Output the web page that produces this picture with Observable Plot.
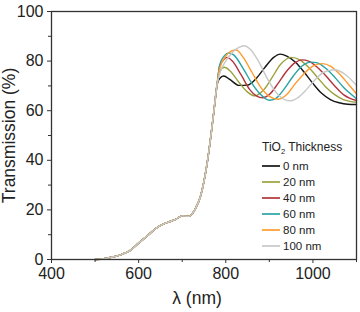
<!DOCTYPE html>
<html>
<head>
<meta charset="utf-8">
<script src="https://cdn.jsdelivr.net/npm/d3@7"></script>
<script src="https://cdn.jsdelivr.net/npm/@observablehq/plot@0.6"></script>
<style>
  html, body { margin: 0; padding: 0; background: #fff; }
  #chart svg { display: block; }
</style>
</head>
<body>
<div id="chart"></div>
<script>
// TiO2 coating thickness for each spectrum, with its line colour
const thickness = ["0 nm", "20 nm", "40 nm", "60 nm", "80 nm", "100 nm"];
const colors = ["#151515", "#9ca23a", "#b3333b", "#27a3a3", "#ff9b2d", "#c8c8c8"];

// Absorption edge shared by all samples: [wavelength nm, transmission %]
const edge = [
  [500, 0], [520, 0.3], [540, 1.0], [560, 2.0], [580, 3.6], [600, 6.6],
  [620, 9.6], [640, 12.6], [655, 14.2], [670, 15.2], [685, 16.2], [700, 17.6],
  [715, 17.4], [730, 20.4], [742, 25.5], [757, 38.6], [772, 58.7], [780, 70.5]
];

// Interference fringes above the edge, one list per thickness
const t0 = [
  [786, 73], [795, 74], [810, 72.5], [830, 70.2], [850, 70.3], [870, 73],
  [890, 77.5], [910, 81.5], [925, 82.8], [940, 82], [960, 79.5], [980, 75.5],
  [1000, 71], [1020, 67], [1040, 64.5], [1060, 63.2], [1080, 62.6], [1100, 62.5]
];
const t20 = [
  [786, 76], [797, 77.5], [810, 76], [830, 71.5], [850, 67.5], [867, 66],
  [885, 68], [905, 73], [925, 78.5], [950, 81.5], [970, 80.5], [990, 77.5],
  [1010, 73.5], [1030, 69.5], [1050, 66.5], [1070, 64.5], [1100, 63.4]
];
const t40 = [
  [786, 78], [795, 80.5], [803, 81.5], [815, 80], [835, 74.5], [855, 68.5],
  [870, 66], [885, 65.2], [900, 66.5], [920, 71], [940, 76], [960, 79.5],
  [975, 80.5], [990, 80], [1010, 77.5], [1030, 74], [1050, 70], [1070, 66.5],
  [1085, 65], [1100, 64.1]
];
const t60 = [
  [786, 78.5], [796, 82], [806, 83.3], [818, 82.5], [840, 77], [860, 71],
  [880, 66.5], [900, 64.2], [915, 65], [935, 69], [955, 74], [975, 78],
  [995, 79.6], [1010, 79.3], [1030, 77], [1050, 73.5], [1070, 69.5],
  [1085, 67], [1100, 64.8]
];
const t80 = [
  [786, 77], [800, 82], [812, 84], [824, 84.5], [840, 81.5], [860, 75.5],
  [880, 69.5], [900, 65.8], [920, 64.6], [940, 66.5], [960, 71], [980, 75],
  [1000, 78], [1022, 79], [1040, 78], [1060, 75], [1080, 71], [1100, 66.8]
];
const t100 = [
  [786, 75], [800, 80], [815, 83.5], [830, 85.5], [842, 86.2], [855, 85],
  [875, 80], [895, 73], [915, 67.5], [935, 64.5], [950, 64], [965, 65.2],
  [985, 68.5], [1005, 72.5], [1025, 75.5], [1050, 76.5], [1075, 74.5], [1100, 70.2]
];

const fringes = [t0, t20, t40, t60, t80, t100];

// Axis ticks
const xMajor = [400, 600, 800, 1000];
const xMinor = [500, 700, 900, 1100];
const yMajor = [0, 20, 40, 60, 80, 100];
const yMinor = [10, 30, 50, 70, 90];

const rows = fringes.flatMap((tail, i) =>
  edge.concat(tail).map(([lambda, T]) => ({lambda, T, film: thickness[i]}))
);

const font = "'Liberation Sans', Arial, Helvetica, sans-serif";
const axisColor = "#333";

const chart = Plot.plot({
  width: 360,
  height: 312,
  marginLeft: 51,
  marginRight: 4,
  marginTop: 11,
  marginBottom: 53,
  style: {fontFamily: font, fontSize: "16px", color: "#222", background: "#fff"},
  x: {domain: [400, 1100]},
  y: {domain: [0, 100]},
  color: {domain: thickness, range: colors},
  marks: [
    Plot.line(rows, {
      x: "lambda", y: "T", z: "film", stroke: "film",
      strokeWidth: 1.4, curve: "monotone-x"
    }),
    Plot.frame({stroke: axisColor, strokeWidth: 1.3}),
    Plot.axisX({ticks: xMajor, tickSize: 4, tickPadding: 4, fontSize: 16,
      tickFormat: d => String(d), label: null, stroke: axisColor}),
    Plot.axisX({ticks: xMinor, tickSize: 3, tickFormat: () => "", label: null, stroke: axisColor}),
    Plot.axisY({ticks: yMajor, tickSize: 4, tickPadding: 4, fontSize: 16,
      tickFormat: d => String(d), label: null, stroke: axisColor}),
    Plot.axisY({ticks: yMinor, tickSize: 3, tickFormat: () => "", label: null, stroke: axisColor}),
    Plot.text(["Transmission (%)"], {
      frameAnchor: "left", dx: -42, rotate: -90, textAnchor: "middle",
      lineAnchor: "middle", fontSize: 17.5, fill: "#222"
    }),
    Plot.text(["\u03bb (nm)"], {
      frameAnchor: "bottom", dx: -7, dy: 39, textAnchor: "middle",
      lineAnchor: "middle", fontSize: 17.5, fill: "#222"
    })
  ]
});

// Legend inside the plot area, lower right
const svg = d3.select(chart);
const legend = svg.append("g")
  .attr("font-family", font)
  .attr("text-anchor", "start")
  .attr("fill", "#222");

const title = legend.append("text").attr("x", 262).attr("y", 151).attr("font-size", 12);
title.append("tspan").text("TiO");
title.append("tspan").attr("font-size", 7.5).attr("dy", 3).text("2");
title.append("tspan").attr("dy", -3).text(" Thickness");

thickness.forEach((label, i) => {
  const y = 166 + i * 16;
  legend.append("line")
    .attr("x1", 262).attr("x2", 280)
    .attr("y1", y).attr("y2", y)
    .attr("stroke", colors[i]).attr("stroke-width", 1.7);
  legend.append("text")
    .attr("x", 283).attr("y", y + 4)
    .attr("font-size", 11.5)
    .text(label);
});

document.getElementById("chart").appendChild(chart);
</script>
</body>
</html>
